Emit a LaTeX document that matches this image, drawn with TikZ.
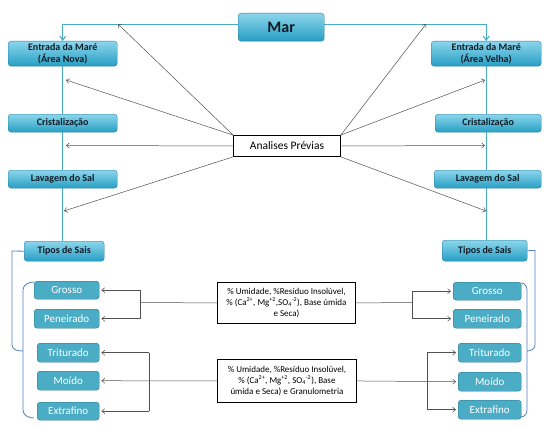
\documentclass[tikz,border=0pt]{standalone}
\usepackage{fontspec}
\setmainfont{Carlito}
\usetikzlibrary{arrows.meta,backgrounds}
\definecolor{maintop}{RGB}{140,214,235}
\definecolor{mainbot}{RGB}{38,158,196}
\definecolor{mainborder}{RGB}{40,128,160}
\definecolor{subfill}{RGB}{75,172,198}
\definecolor{subborder}{RGB}{45,115,138}
\definecolor{textdark}{RGB}{18,28,38}
\definecolor{tealline}{RGB}{75,172,198}
\definecolor{brk}{RGB}{79,129,189}
\definecolor{grayline}{RGB}{80,80,80}
\tikzset{
  mainbox/.style={rounded corners=3pt, draw=mainborder, top color=maintop, bottom color=mainbot,
    text=textdark, font=\bfseries\fontsize{10}{11.5}\selectfont, align=center, inner sep=0pt, anchor=north west},
  subbox/.style={rounded corners=3pt, draw=subborder, fill=subfill, text=white,
    font=\fontsize{11}{12}\selectfont, inner sep=0pt, anchor=north west},
  infobox/.style={draw=black, line width=0.9pt, fill=white, text=black,
    font=\fontsize{9}{11}\selectfont, align=center, inner sep=0pt, anchor=north west},
  tealarrow/.style={draw=tealline, line width=1.1pt, -{Straight Barb[length=4pt,width=6pt]}},
  tealln/.style={draw=tealline, line width=1.1pt},
  grayarrow/.style={draw=grayline, line width=0.5pt, -{Straight Barb[length=3pt,width=5pt]}},
  grayln/.style={draw=grayline, line width=0.5pt},
  brkln/.style={draw=brk, line width=0.8pt},
}
\begin{document}
\begin{tikzpicture}[x=1pt,y=-1pt]
\useasboundingbox (0,0) rectangle (554,428);
% main nodes
\node[mainbox, minimum width=86pt, minimum height=28pt, font=\bfseries\fontsize{16}{18}\selectfont] (mar) at (238,13) {Mar};
\node[mainbox, minimum width=109pt, minimum height=25pt] (en1) at (8,41) {Entrada da Maré\\(Área Nova)};
\node[mainbox, minimum width=109pt, minimum height=18pt] (cr1) at (8,114) {Cristalização};
\node[mainbox, minimum width=109pt, minimum height=18pt] (lv1) at (8,170) {Lavagem do Sal};
\node[mainbox, minimum width=80pt, minimum height=20pt] (tp1) at (24,241) {Tipos de Sais};
\node[mainbox, minimum width=110pt, minimum height=25pt] (en2) at (431,41) {Entrada da Maré\\(Área Velha)};
\node[mainbox, minimum width=106pt, minimum height=18pt] (cr2) at (435,114) {Cristalização};
\node[mainbox, minimum width=107pt, minimum height=18pt] (lv2) at (434,170) {Lavagem do Sal};
\node[mainbox, minimum width=85pt, minimum height=21pt] (tp2) at (442,240) {Tipos de Sais};
\node[infobox, minimum width=107pt, minimum height=21pt, font=\fontsize{11.5}{13}\selectfont] (an) at (233,135) {Analises Prévias};
% sub nodes left
\node[subbox, minimum width=65pt, minimum height=18pt] (g1) at (34,281) {Grosso};
\node[subbox, minimum width=65pt, minimum height=19pt] (p1) at (34,309) {Peneirado};
\node[subbox, minimum width=62pt, minimum height=19pt] (t1) at (37,343) {Triturado};
\node[subbox, minimum width=62pt, minimum height=19pt] (m1) at (37,371) {Moído};
\node[subbox, minimum width=62pt, minimum height=18pt] (e1) at (37,402) {Extrafino};
% sub nodes right
\node[subbox, minimum width=68pt, minimum height=18pt] (g2) at (453,282) {Grosso};
\node[subbox, minimum width=68pt, minimum height=19pt] (p2) at (453,309) {Peneirado};
\node[subbox, minimum width=63pt, minimum height=19pt] (t2) at (458,343) {Triturado};
\node[subbox, minimum width=63pt, minimum height=19pt] (m2) at (458,372) {Moído};
\node[subbox, minimum width=63pt, minimum height=19pt] (e2) at (458,400) {Extrafino};
% info boxes
\node[infobox, minimum width=138pt, minimum height=41pt] (b1) at (217,282)
  {\% Umidade, \%Resíduo Insolúvel,\\\% (Ca\textsuperscript{2+}, Mg\textsuperscript{+2},SO\textsubscript{4}\textsuperscript{-2}), Base úmida\\e Seca)};
\node[infobox, minimum width=139pt, minimum height=43pt] (b2) at (217,359)
  {\% Umidade, \%Resíduo Insolúvel,\\\% (Ca\textsuperscript{2+}, Mg\textsuperscript{+2}, SO\textsubscript{4}\textsuperscript{-2}), Base\\úmida e Seca) e Granulometria};
% coordinates
\coordinate (aL1) at (118,24);
\coordinate (aL2) at (66,80);
\coordinate (aL3) at (66,145.5);
\coordinate (aL4) at (64,211);
\coordinate (aR1) at (426,24);
\coordinate (aR2) at (485,80);
\coordinate (aR3) at (485,145.5);
\coordinate (aR4) at (486,211);
\coordinate (f1) at (140,302.5);
\coordinate (f2) at (412,302.5);
\coordinate (f3) at (149,380);
\coordinate (f4) at (427,380);
\begin{scope}[on background layer]
\fill[white] (0,0) rectangle (554,428);
% teal flow lines
\draw[tealarrow] ([yshift=3pt]mar.west) -| (en1.north);
\draw[tealarrow] ([yshift=3pt]mar.east) -| (en2.north);
\draw[tealln] (en1.south) -- (en1.south |- tp1.north);
\draw[tealln] (en2.south) -- (en2.south |- tp2.north);
% brackets
\draw[brkln] (tp1.west) -- (12,251) -- (12,345) to[out=-90,in=180] (23,351);
\draw[brkln] (34,282) to[out=180,in=90] (23,290) -- (23,410) to[out=-90,in=180] (34,418);
\draw[brkln] (tp2.east) -- (535,250.5) -- (535,345) to[out=-90,in=0] (527,351);
\draw[brkln] (521,283) to[out=0,in=90] (527,290) -- (527,410) to[out=-90,in=0] (521,417);
\end{scope}
% analises arrows
\draw[grayarrow] (an.north west) -- (aL1);
\draw[grayarrow] (an.north west) -- (aL2);
\draw[grayarrow] (an.west) -- (aL3);
\draw[grayarrow] (an.south west) -- (aL4);
\draw[grayarrow] (an.north east) -- (aR1);
\draw[grayarrow] (an.north east) -- (aR2);
\draw[grayarrow] (an.east) -- (aR3);
\draw[grayarrow] (an.south east) -- (aR4);
% box1 connectors
\draw[grayln] (b1.west) -- (f1);
\draw[grayln] (f1 |- g1.east) -- (f1 |- p1.east);
\draw[grayarrow, shorten >=2pt] (f1 |- g1.east) -- (g1.east);
\draw[grayarrow, shorten >=2pt] (f1 |- p1.east) -- (p1.east);
\draw[grayln] (b1.east) -- (f2);
\draw[grayln] (f2 |- g2.west) -- (f2 |- p2.west);
\draw[grayarrow, shorten >=2pt] (f2 |- g2.west) -- (g2.west);
\draw[grayarrow, shorten >=2pt] (f2 |- p2.west) -- (p2.west);
% box2 connectors
\draw[grayarrow, shorten >=2pt] (b2.west) -- (m1.east);
\draw[grayln] (f3 |- t1.east) -- (f3 |- e1.east);
\draw[grayarrow, shorten >=2pt] (f3 |- t1.east) -- (t1.east);
\draw[grayarrow, shorten >=2pt] (f3 |- e1.east) -- (e1.east);
\draw[grayarrow, shorten >=2pt] (b2.east) -- (m2.west);
\draw[grayln] (f4 |- t2.west) -- (f4 |- e2.west);
\draw[grayarrow, shorten >=2pt] (f4 |- t2.west) -- (t2.west);
\draw[grayarrow, shorten >=2pt] (f4 |- e2.west) -- (e2.west);
\end{tikzpicture}
\end{document}
